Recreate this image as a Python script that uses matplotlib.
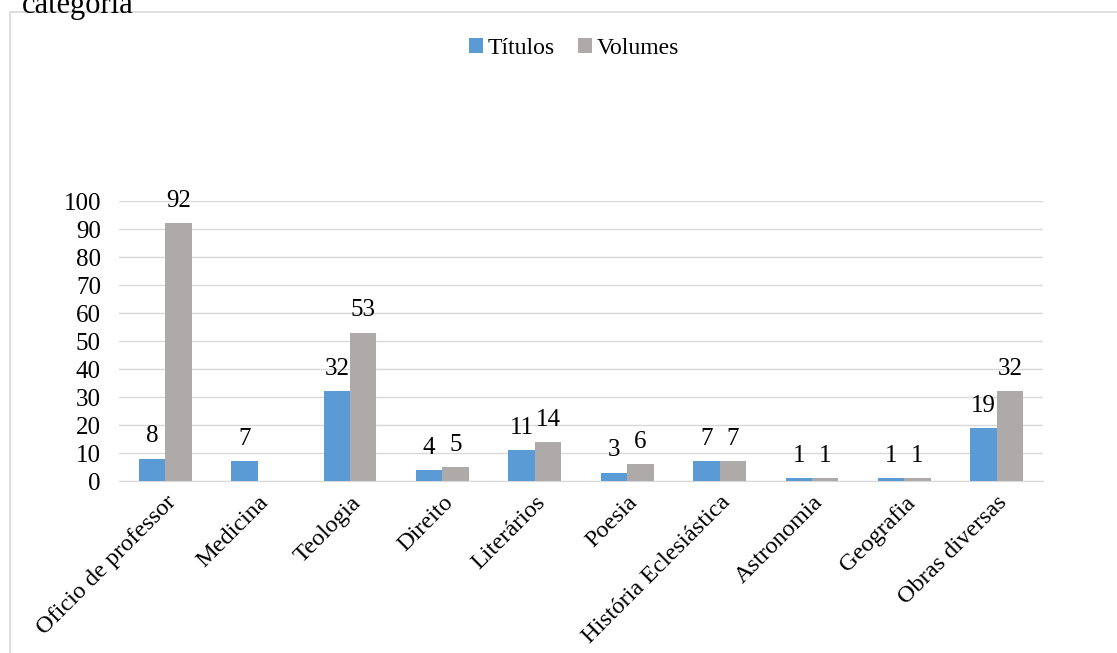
import numpy as np
import matplotlib.pyplot as plt
from matplotlib.patches import Rectangle

plt.rcParams['font.family'] = ['Liberation Serif', 'DejaVu Serif']

# Data
categorias = ["Oficio de professor", "Medicina", "Teologia", "Direito", "Literários",
              "Poesia", "História Eclesiástica", "Astronomia", "Geografia", "Obras diversas"]
titulos = [8, 7, 32, 4, 11, 3, 7, 1, 1, 19]
volumes = [92, np.nan, 53, 5, 14, 6, 7, 1, 1, 32]
yticks = [0, 10, 20, 30, 40, 50, 60, 70, 80, 90, 100]

azul = "#5b9bd5"
cinza = "#aeaaaa"

fig = plt.figure(figsize=(11.17, 6.53), dpi=100)
ax = fig.add_axes([119 / 1117, 1 - 481 / 653, (1043 - 119) / 1117, 280 / 653])

# chart frame (cropped)
fig.patches.append(Rectangle((10 / 1117, -0.1), 1.2, 1 - 12 / 653 + 0.1,
                             transform=fig.transFigure, fill=False,
                             edgecolor="#d9d9d9", linewidth=1.2))
fig.text(22 / 1117, 1 - 13 / 653, "categoria", fontsize=22, va="baseline", ha="left")

x = np.arange(len(categorias))
w = 0.285
b1 = ax.bar(x - w / 2, titulos, w, color=azul, label="Títulos", zorder=3)
b2 = ax.bar(x + w / 2, volumes, w, color=cinza, label="Volumes", zorder=3)

for bars, vals in ((b1, titulos), (b2, volumes)):
    for rect, v in zip(bars, vals):
        if np.isnan(v):
            continue
        ax.annotate(f"{int(v)}", (rect.get_x() + rect.get_width() / 2, v),
                    xytext=(0, 8), textcoords="offset points",
                    ha="center", va="bottom", fontsize=18)

ax.set_xlim(-0.5, len(categorias) - 0.5)
ax.set_ylim(0, 100)
ax.set_yticks(yticks)
ax.set_xticks(x)
ax.set_xticklabels(categorias, rotation=45, ha="right", rotation_mode="anchor", fontsize=17.5)
ax.tick_params(axis="y", labelsize=18, length=0, pad=13)
ax.tick_params(axis="x", length=0, pad=8)
ax.grid(axis="y", color="#d9d9d9", linewidth=1, zorder=0)
for s in ("top", "right", "left"):
    ax.spines[s].set_visible(False)
ax.spines["bottom"].set_color("#d9d9d9")

fig.legend(loc="center", bbox_to_anchor=(574 / 1117, 1 - 48 / 653), ncol=2, frameon=False,
           fontsize=17, handlelength=0.6, handleheight=0.6, handletextpad=0.2,
           columnspacing=1.0)

fig.savefig("out.png", dpi=100)
